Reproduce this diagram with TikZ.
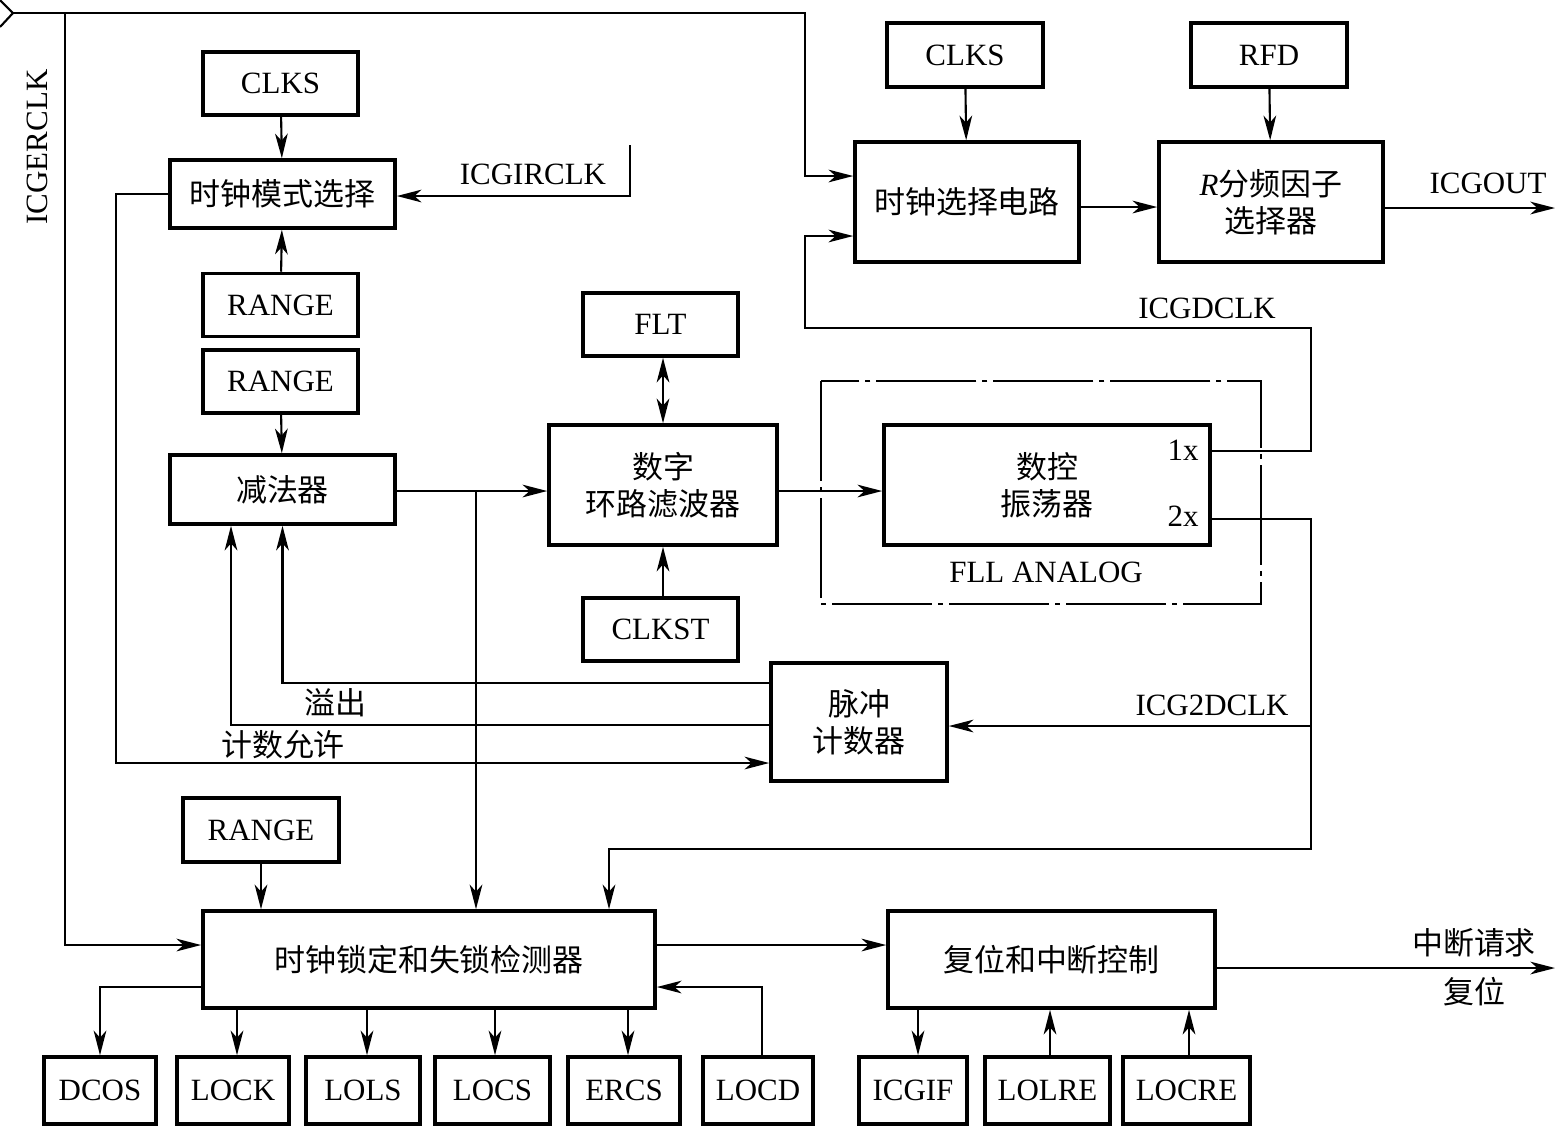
\documentclass[tikz,border=0pt]{standalone}
\usepackage{fontspec}
\setmainfont{Liberation Serif}
\newfontfamily\cjk{Noto Sans CJK SC}
\usepackage{tikz}
\usetikzlibrary{
  arrows.meta,
  positioning
}
\newcommand{\zh}[1]{{\cjk #1}}
\tikzset{
    blk/.style={draw, line width=1pt, inner sep=0pt, align=center,
        font=\fontsize{8.8}{10.5}\selectfont},
    regbox/.style={blk, minimum width=1.55cm, minimum height=0.63cm},
    flagbox/.style={blk, minimum height=0.67cm},
    wire/.style={line width=0.6pt},
    sig/.style={wire, -{Stealth[length=7pt,width=3.6pt,inset=2pt]}},
    lbl/.style={font=\fontsize{8.8}{10.5}\selectfont, inner sep=0pt}
}

\begin{document}
\begin{tikzpicture}[x=0.01cm, y=-0.01cm]
    \useasboundingbox (0,0) rectangle (1555,1126);

    % left column
    \node[regbox] (clksA) at (280.5,83.5) {CLKS};
    \node[blk, minimum width=2.25cm, minimum height=0.68cm] (modesel) at (282.5,194) {\zh{时钟模式选择}};
    \node[regbox] (rangeA) at (280.5,305) {RANGE};
    \node[regbox] (rangeB) at (280.5,381.5) {RANGE};
    \node[blk, minimum width=2.25cm, minimum height=0.69cm] (sub) at (282.5,489.5) {\zh{减法器}};

    % loop filter and oscillator
    \node[regbox] (flt) at (660.5,324.5) {FLT};
    \node[blk, minimum width=2.28cm, minimum height=1.2cm] (dlf) at (663,485) {\zh{数字}\\\zh{环路滤波器}};
    \node[regbox] (clkst) at (660.5,629.5) {CLKST};
    \node[blk, minimum width=3.26cm, minimum height=1.2cm] (dco) at (1047,485) {\zh{数控}\\\zh{振荡器}};
    \node[lbl] (x1) at (1183,450) {1x};
    \node[lbl] (x2) at (1183,516) {2x};
    \draw[line width=0.5pt, dash pattern=on 1cm off 0.06cm on 0.05cm off 0.06cm]
        (821,381) rectangle (1261,604);
    \node[lbl] (fll) at (1046,572) {FLL ANALOG};
    \node[blk, minimum width=1.76cm, minimum height=1.18cm] (pcnt) at (859,722) {\zh{脉冲}\\\zh{计数器}};

    % clock output path
    \node[regbox, minimum width=1.56cm, minimum height=0.64cm] (clksB) at (965,55) {CLKS};
    \node[blk, minimum width=2.24cm, minimum height=1.2cm] (clksel) at (967,202) {\zh{时钟选择电路}};
    \node[regbox, minimum width=1.56cm, minimum height=0.64cm] (rfd) at (1269,55) {RFD};
    \node[blk, minimum width=2.24cm, minimum height=1.2cm] (rdiv) at (1271,202) {\textit{R}\zh{分频因子}\\\zh{选择器}};

    % lock detector and interrupt control
    \node[regbox, minimum width=1.56cm, minimum height=0.64cm] (rangeC) at (261,830) {RANGE};
    \node[blk, minimum width=4.52cm, minimum height=0.97cm] (lockdet) at (429,959.5) {\zh{时钟锁定和失锁检测器}};
    \node[blk, minimum width=3.27cm, minimum height=0.97cm] (rstint) at (1051.5,959.5) {\zh{复位和中断控制}};
    \node[flagbox, minimum width=1.12cm] (dcos) at (100,1090.5) {DCOS};
    \node[flagbox, minimum width=1.12cm] (lock) at (233,1090.5) {LOCK};
    \node[flagbox, minimum width=1.14cm] (lols) at (363,1090.5) {LOLS};
    \node[flagbox, minimum width=1.15cm] (locs) at (492.5,1090.5) {LOCS};
    \node[flagbox, minimum width=1.12cm] (ercs) at (624,1090.5) {ERCS};
    \node[flagbox, minimum width=1.10cm] (locd) at (758,1090.5) {LOCD};
    \node[flagbox, minimum width=1.08cm] (icgif) at (913,1090.5) {ICGIF};
    \node[flagbox, minimum width=1.25cm] (lolre) at (1047.5,1090.5) {LOLRE};
    \node[flagbox, minimum width=1.27cm] (locre) at (1186.5,1090.5) {LOCRE};

    % free ends
    \coordinate (erclk) at (13,13);
    \coordinate (irclk) at (630,145);
    \coordinate (outR) at (1555,208);
    \coordinate (outI) at (1555,968);

    % labels
    \node[lbl, rotate=90] (lerclk) at (37,147) {ICGERCLK};
    \node[lbl] (lirclk) at (533,174) {ICGIRCLK};
    \node[lbl] (lout) at (1488,183) {ICGOUT};
    \node[lbl] (ldclk) at (1207,308) {ICGDCLK};
    \node[lbl] (l2dclk) at (1212,705) {ICG2DCLK};
    \node[lbl] (lovf) at (335,703) {\zh{溢出}};
    \node[lbl] (lcnt) at (283,745) {\zh{计数允许}};
    \node[lbl] (lirq) at (1474,943) {\zh{中断请求}};
    \node[lbl] (lrst) at (1474,992) {\zh{复位}};

    % connectors
    \draw[wire] (0,0) -- (erclk) -- (0,27);
    \draw[sig] (erclk) -| (805,176) -- (clksel.west |- 0,176);
    \draw[sig] (65,13) |- (lockdet.west |- 0,945);
    \draw[sig] (clksA) -- (modesel);
    \draw[sig] (rangeA) -- (modesel);
    \draw[sig] (irclk) |- (modesel.east |- 0,196);
    \draw[sig] (rangeB) -- (sub);
    \draw[sig] (sub.east |- 0,491) -- (dlf.west |- 0,491);
    \draw[sig] (dlf.east |- 0,491) -- (dco.west |- 0,491);
    \draw[wire, {Stealth[length=7pt,width=3.6pt,inset=2pt]}-{Stealth[length=7pt,width=3.6pt,inset=2pt]}]
        (flt.south -| 663,0) -- (dlf.north);
    \draw[sig] (clkst.north -| 663,0) -- (dlf.south);
    \draw[sig] (476,491) -- (lockdet.north -| 476,0);
    \draw[sig] (modesel.west) -| (116,763) -- (pcnt.west |- 0,763);
    \draw[sig] (pcnt.west |- 0,683) -| (sub.south);
    \draw[sig] (pcnt.west |- 0,725) -| (sub.south -| 231,0);
    \draw[sig] (dco.east |- 0,451) -| (1311,328) -| (805,236) -- (clksel.west |- 0,236);
    \draw[sig] (dco.east |- 0,519) -| (1311,849) -| (lockdet.north -| 609,0);
    \draw[sig] (1311,726) -- (pcnt.east |- 0,726);
    \draw[sig] (clksB) -- (clksel);
    \draw[sig] (rfd) -- (rdiv);
    \draw[sig] (clksel.east |- 0,207) -- (rdiv.west |- 0,207);
    \draw[sig] (rdiv.east |- 0,208) -- (outR);
    \draw[sig] (rangeC) -- (rangeC.south |- lockdet.north);
    \draw[sig] (lockdet.east |- 0,945) -- (rstint.west |- 0,945);
    \draw[sig] (rstint.east |- 0,968) -- (outI);
    \draw[sig] (lockdet.west |- 0,987) -| (dcos.north);
    \draw[sig] (lockdet.south -| 237,0) -- (lock.north -| 237,0);
    \draw[sig] (lockdet.south -| 367,0) -- (lols.north -| 367,0);
    \draw[sig] (lockdet.south -| 495,0) -- (locs.north -| 495,0);
    \draw[sig] (lockdet.south -| 628,0) -- (ercs.north -| 628,0);
    \draw[sig] (locd.north -| 762,0) |- (lockdet.east |- 0,987);
    \draw[sig] (rstint.south -| 918,0) -- (icgif.north -| 918,0);
    \draw[sig] (lolre.north -| 1050,0) -- (rstint.south -| 1050,0);
    \draw[sig] (locre.north -| 1189,0) -- (rstint.south -| 1189,0);
\end{tikzpicture}
\end{document}
